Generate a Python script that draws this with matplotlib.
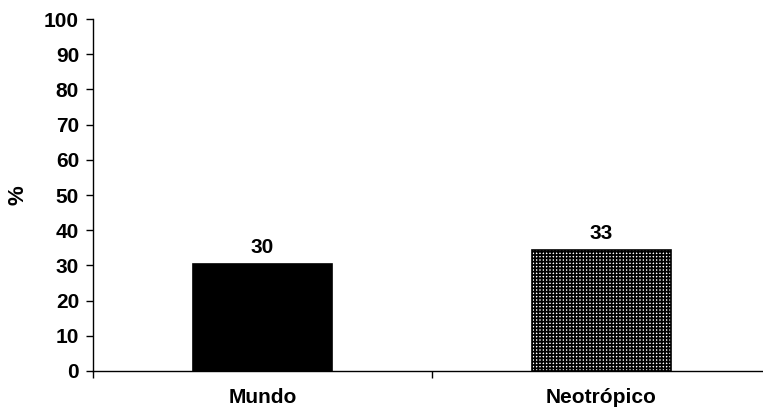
import matplotlib.pyplot as plt
import numpy as np

categories = ["Mundo", "Neotrópico"]
values = [30.5, 34.5]
labels = ["30", "33"]

plt.rcParams['font.family'] = ['Liberation Sans', 'DejaVu Sans']
plt.rcParams['font.weight'] = 'bold'
plt.rcParams['hatch.linewidth'] = 1.3

fs = 15

fig = plt.figure(figsize=(7.63, 4.12), dpi=100)
ax = fig.add_axes([93 / 763, 1 - 371 / 412, 678 / 763, 352 / 412])

x = np.arange(len(categories))
bars = ax.bar(x, values, width=0.41, color=['black', 'white'],
              edgecolor='black', linewidth=1.2)
bars[1].set_hatch('+++++')

for b, lab in zip(bars, labels):
    ax.text(b.get_x() + b.get_width() / 2, b.get_height() + 2, lab,
            ha='center', va='bottom', fontsize=fs, fontweight='bold')

ax.set_xlim(-0.5, 1.5)
ax.set_ylim(0, 100)
ax.set_yticks(range(0, 101, 10))
ax.set_xticks([-0.5, 0.5, 1.5])
ax.set_xticklabels([])
ax.set_xticks(x, minor=True)
ax.set_xticklabels(categories, minor=True, fontsize=fs, fontweight='bold')
ax.tick_params(axis='x', which='minor', length=0, pad=12)
ax.tick_params(axis='x', which='major', length=5, width=1, direction='out')
ax.tick_params(axis='y', length=5, width=1, direction='out', labelsize=fs, pad=5)
for t in ax.get_yticklabels():
    t.set_fontweight('bold')

ax.spines['top'].set_visible(False)
ax.spines['right'].set_visible(False)
ax.spines['left'].set_linewidth(1)
ax.spines['bottom'].set_linewidth(1)

fig.text(18 / 763, 1 - 195 / 412, '%', rotation=90, ha='center', va='center',
         fontsize=fs + 1, fontweight='bold')

plt.savefig('out.png', dpi=100)
